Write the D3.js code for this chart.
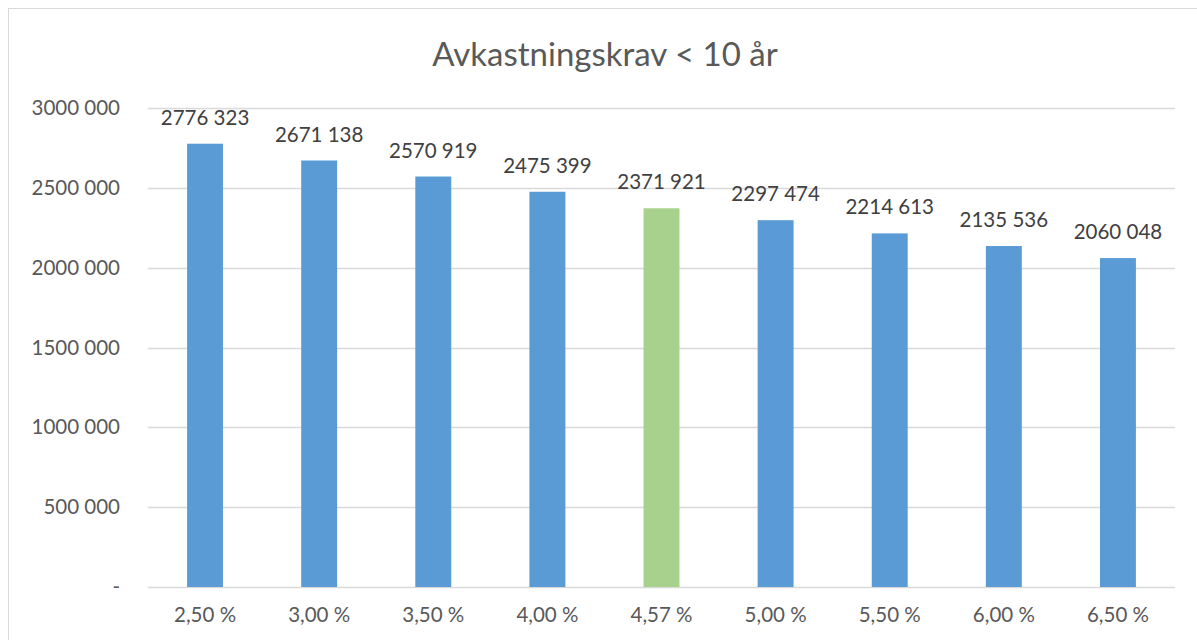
<!DOCTYPE html>
<html>
<head>
<meta charset="utf-8">
<script src="https://cdn.jsdelivr.net/npm/d3@7"></script>
<style>
  body { margin: 0; background: #fff; }
  text { font-family: Lato, "Noto Sans", sans-serif; }
</style>
</head>
<body>
<div id="chart"></div>
<script>
const categories = ["2,50 %", "3,00 %", "3,50 %", "4,00 %", "4,57 %", "5,00 %", "5,50 %", "6,00 %", "6,50 %"];
const values = [2776323, 2671138, 2570919, 2475399, 2371921, 2297474, 2214613, 2135536, 2060048];
const highlight = "4,57 %";
const yTicks = [0, 500000, 1000000, 1500000, 2000000, 2500000, 3000000];
const title = "Avkastningskrav < 10 år";

const width = 1197, height = 640;
const margin = { top: 108, right: 22, bottom: 53, left: 148 };

// "3000 000" style: only the last group is separated
function fmt(v) {
    if (v === 0) return "-";
    const hi = Math.floor(v / 1000), lo = v % 1000;
    return hi + " " + String(lo).padStart(3, "0");
}

const svg = d3.select("#chart").append("svg")
    .attr("width", width)
    .attr("height", height);

svg.append("rect")
    .attr("x", 8.5).attr("y", 8.5)
    .attr("width", 1196).attr("height", 640)
    .attr("fill", "#fff")
    .attr("stroke", "#d9d9d9");

const x = d3.scaleBand()
    .domain(categories)
    .range([margin.left, width - margin.right])
    .paddingInner(0.685)
    .paddingOuter(0.3425);

const y = d3.scaleLinear()
    .domain([0, 3000000])
    .range([height - margin.bottom, margin.top]);

// gridlines
svg.append("g")
    .selectAll("line")
    .data(yTicks)
    .join("line")
    .attr("x1", margin.left)
    .attr("x2", width - margin.right)
    .attr("y1", d => Math.round(y(d)) + 0.5)
    .attr("y2", d => Math.round(y(d)) + 0.5)
    .attr("stroke", "#d9d9d9")
    .attr("stroke-width", 1.5);

// y axis labels
const yAxis = d3.axisLeft(y).tickValues(yTicks).tickFormat(fmt).tickSize(0).tickPadding(28);
svg.append("g")
    .attr("transform", `translate(${margin.left},0)`)
    .call(yAxis)
    .call(g => g.select(".domain").remove())
    .call(g => g.selectAll("text")
        .attr("font-size", 20.5)
        .attr("fill", "#595959")
        .style("font-family", "Lato, 'Noto Sans', sans-serif"));

// x axis labels
const xAxis = d3.axisBottom(x).tickSize(0).tickPadding(20);
svg.append("g")
    .attr("transform", `translate(0,${height - margin.bottom})`)
    .call(xAxis)
    .call(g => g.select(".domain").remove())
    .call(g => g.selectAll("text")
        .attr("font-size", 20.5)
        .attr("fill", "#595959")
        .style("font-family", "Lato, 'Noto Sans', sans-serif"));

// bars
svg.append("g")
    .selectAll("rect")
    .data(values)
    .join("rect")
    .attr("x", (d, i) => x(categories[i]))
    .attr("width", x.bandwidth())
    .attr("y", d => y(d))
    .attr("height", d => y(0) - y(d))
    .attr("fill", (d, i) => categories[i] === highlight ? "#a9d18e" : "#5b9bd5");

// value labels
svg.append("g")
    .selectAll("text")
    .data(values)
    .join("text")
    .attr("x", (d, i) => x(categories[i]) + x.bandwidth() / 2)
    .attr("y", d => y(d) - 19)
    .attr("text-anchor", "middle")
    .attr("font-size", 20.5)
    .attr("fill", "#404040")
    .text(fmt);

// title
svg.append("text")
    .attr("x", 605)
    .attr("y", 66)
    .attr("text-anchor", "middle")
    .attr("font-size", 33)
    .attr("fill", "#595959")
    .text(title);
</script>
</body>
</html>
